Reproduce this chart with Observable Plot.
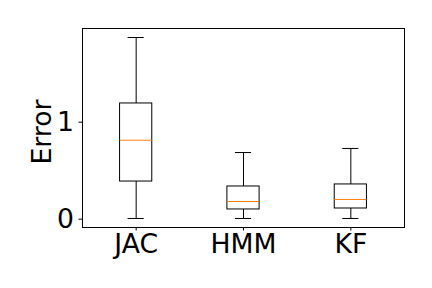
<!DOCTYPE html>
<html>
<head>
<meta charset="utf-8">
<script src="https://cdn.jsdelivr.net/npm/d3@7"></script>
<script src="https://cdn.jsdelivr.net/npm/@observablehq/plot@0.6"></script>
<style>
  html, body { margin: 0; padding: 0; background: #fff; }
</style>
</head>
<body>
<div id="chart"></div>
<script>
const categories = ["JAC", "HMM", "KF"];
const whiskerLow = [0.007, 0.007, 0.007];
const q1 = [0.388, 0.100, 0.110];
const median = [0.814, 0.182, 0.203];
const q3 = [1.193, 0.337, 0.358];
const whiskerHigh = [1.873, 0.687, 0.729];
const yTicks = [0, 1];
const yLabel = "Error";

const data = categories.map((c, i) => ({
  name: c, pos: i + 1,
  lo: whiskerLow[i], q1: q1[i], med: median[i], q3: q3[i], hi: whiskerHigh[i]
}));

const boxHalf = 0.15, capHalf = 0.075;

const chart = Plot.plot({
  width: 432,
  height: 288,
  marginLeft: 82,
  marginRight: 28,
  marginTop: 28,
  marginBottom: 61,
  style: { fontFamily: "DejaVu Sans", background: "#fff", color: "#000" },
  x: { type: "linear", domain: [0.5, 3.5] },
  y: { domain: [-0.086, 1.966] },
  marks: [
    Plot.ruleX(data, { x: "pos", y1: "q3", y2: "hi", stroke: "black", strokeWidth: 1 }),
    Plot.ruleX(data, { x: "pos", y1: "lo", y2: "q1", stroke: "black", strokeWidth: 1 }),
    Plot.ruleY(data, { y: "hi", x1: d => d.pos - capHalf, x2: d => d.pos + capHalf, stroke: "black", strokeWidth: 1 }),
    Plot.ruleY(data, { y: "lo", x1: d => d.pos - capHalf, x2: d => d.pos + capHalf, stroke: "black", strokeWidth: 1 }),
    Plot.rect(data, { x1: d => d.pos - boxHalf, x2: d => d.pos + boxHalf, y1: "q1", y2: "q3", fill: "none", stroke: "black", strokeWidth: 1 }),
    Plot.ruleY(data, { y: "med", x1: d => d.pos - boxHalf, x2: d => d.pos + boxHalf, stroke: "#ff7f0e", strokeWidth: 1 }),
    Plot.frame({ stroke: "#000", strokeWidth: 1 }),
    Plot.axisX({ ticks: [1, 2, 3], tickFormat: d => categories[d - 1], fontSize: 26.67, tickSize: 3.5, tickPadding: 3, label: null, stroke: "#000" }),
    Plot.axisY({ ticks: yTicks, tickFormat: d => String(d), fontSize: 26.67, tickSize: 3.5, tickPadding: 5, label: null, stroke: "#000" }),
    Plot.text([yLabel], { frameAnchor: "left", textAnchor: "middle", rotate: -90, dx: -40, dy: 4, fontSize: 26.67, fill: "#000" })
  ]
});
document.getElementById("chart").appendChild(chart);
</script>
</body>
</html>
